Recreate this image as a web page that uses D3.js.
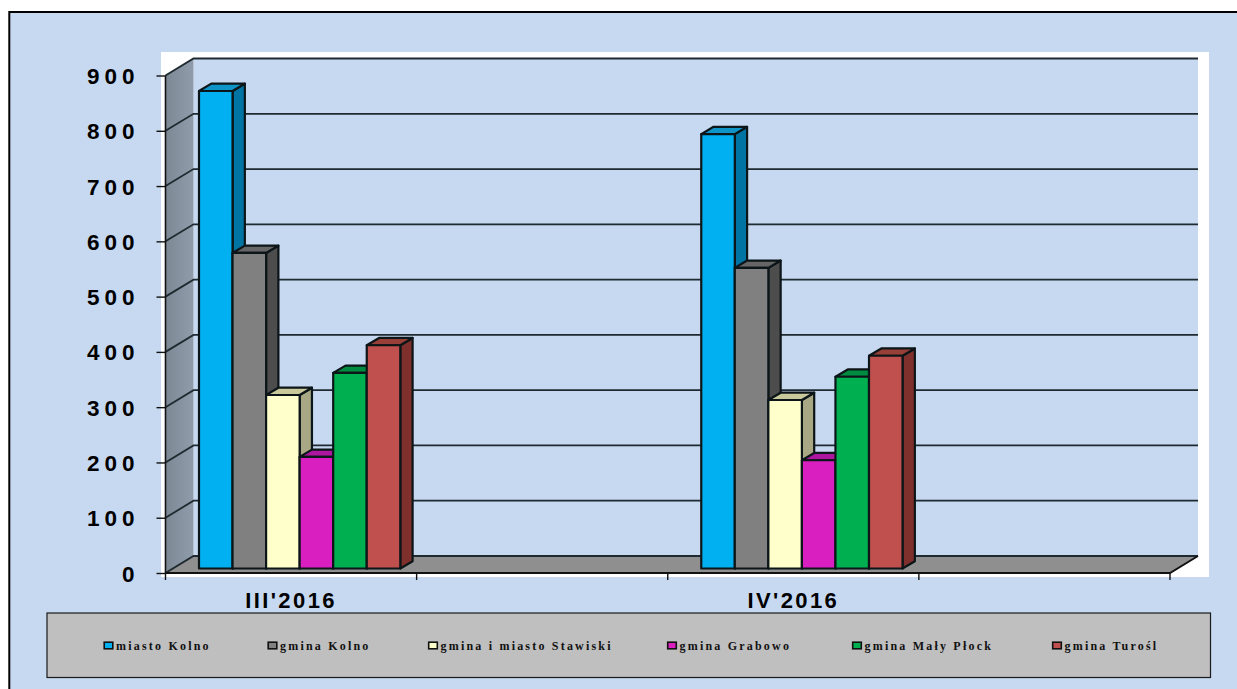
<!DOCTYPE html>
<html><head><meta charset="utf-8">
<script src="https://d3js.org/d3.v7.min.js"></script>
<style>html,body{margin:0;padding:0;background:#fff}svg{display:block}</style>
</head><body><svg id="c" width="1237" height="689"></svg>
<script>
const periods = ["III'2016", "", "IV'2016", ""];
const seriesNames = ["miasto Kolno", "gmina Kolno", "gmina i miasto Stawiski", "gmina Grabowo", "gmina Mały Płock", "gmina Turośl"];
const valuesIII = [872, 579, 322, 210, 362, 412];
const valuesIV = [794, 552, 313, 204, 355, 393];
const frontColors = ["#00b0f0", "#808080", "#ffffcc", "#d91fbf", "#00b050", "#c0504d"];
const topColors = ["#0f94c8", "#666666", "#c9c99c", "#ad17a0", "#008c40", "#984038"];
const sideColors = ["#0074a3", "#4d4d4d", "#a8a884", "#8a1080", "#006a30", "#7f302c"];
const yTicks = [0, 100, 200, 300, 400, 500, 600, 700, 800, 900];

const svg = d3.select("#c");
svg.append("rect").attr("x",9.3).attr("y",12).attr("width",1240).attr("height",690)
  .attr("fill","#c6d9f1").attr("stroke","#000").attr("stroke-width",2);
svg.append("rect").attr("x",161).attr("y",52).attr("width",1048).attr("height",525).attr("fill","#fff");

const dx = 28, dy = -17;
const y = d3.scaleLinear().domain([0,900]).range([573,75.5]);
const x = d3.scaleBand().domain(d3.range(periods.length)).range([165.5,1170]);
const defs = svg.append("defs");
const g1 = defs.append("linearGradient").attr("id","wall").attr("x1",0).attr("x2",1).attr("y1",0).attr("y2",0);
g1.append("stop").attr("offset",0).attr("stop-color","#7d8894");
g1.append("stop").attr("offset",1).attr("stop-color","#8f9cab");

const line = d3.line();
svg.append("path").attr("d",line([[x.range()[0]+dx,y(900)+dy],[x.range()[1]+dx,y(900)+dy],[x.range()[1]+dx,y(0)+dy],[x.range()[0]+dx,y(0)+dy]])+"Z").attr("fill","#c6d9f1");
svg.append("path").attr("d",line([[x.range()[0],y(900)],[x.range()[0]+dx,y(900)+dy],[x.range()[0]+dx,y(0)+dy],[x.range()[0],y(0)]])+"Z").attr("fill","url(#wall)");
svg.append("path").attr("d",line([[x.range()[0],y(0)],[x.range()[0]+dx,y(0)+dy],[x.range()[1]+dx,y(0)+dy],[x.range()[1],y(0)]])+"Z")
  .attr("fill","#8f8f8f");
yTicks.forEach(t=>{
  svg.append("path").attr("fill","none").attr("stroke","#1f2a30").attr("stroke-width",t===0?2:1.8)
    .attr("d",line([[x.range()[0],y(t)],[x.range()[0]+dx,y(t)+dy],[x.range()[1]+dx,y(t)+dy]]));
});
svg.append("path").attr("fill","none").attr("stroke","#111").attr("stroke-width",2)
  .attr("d",line([[x.range()[0],y(0)],[x.range()[1],y(0)],[x.range()[1]+dx,y(0)+dy]]));
svg.append("line").attr("x1",x.range()[0]).attr("x2",x.range()[0]).attr("y1",y(900)).attr("y2",y(0)).attr("stroke","#111").attr("stroke-width",1.6);

const yAxis = svg.append("g").attr("transform",`translate(${x.range()[0]},0)`)
  .call(d3.axisLeft(y).tickValues(yTicks).tickSize(9).tickPadding(17));
yAxis.select(".domain").remove();
yAxis.selectAll("text").attr("font-family","'Liberation Sans',Arial,sans-serif").attr("font-weight","bold").attr("font-size",22.5).attr("letter-spacing",5).attr("fill","#000").attr("dy","0.36em");
yAxis.selectAll("line").attr("stroke","#111").attr("stroke-width",1.4);

const xAxis = svg.append("g").attr("transform",`translate(0,${y(0)})`)
  .call(d3.axisBottom(x).tickValues([]).tickSize(0));
xAxis.select(".domain").remove();
d3.range(periods.length+1).forEach(i=>{
  const px = i<periods.length ? x(i) : x.range()[1];
  xAxis.append("line").attr("x1",px).attr("x2",px).attr("y1",0).attr("y2",7).attr("stroke","#111").attr("stroke-width",1.4);
});
periods.forEach((p,i)=>{
  if(!p) return;
  xAxis.append("text").attr("x",x(i)+x.bandwidth()/2).attr("y",35).attr("text-anchor","middle")
    .attr("font-family","'Liberation Sans',Arial,sans-serif").attr("font-weight","bold").attr("font-size",22).attr("letter-spacing",2.4).attr("fill","#000").text(p);
});

const barOffset = 33.5, barW = 33.55, oy = -4.5, bx = 12.3, by = -7.3;
[[0,valuesIII],[2,valuesIV]].forEach(([gi,vals])=>{
  vals.forEach((v,si)=>{
    const xl = x(gi)+barOffset+si*barW, xr = xl+barW;
    const yt = y(v), yb = y(0)+oy;
    const g = svg.append("g").attr("stroke","#0c1518").attr("stroke-width",2.2).attr("stroke-linejoin","round");
    g.append("path").attr("fill",sideColors[si]).attr("d",line([[xr,yt],[xr+bx,yt+by],[xr+bx,yb+by],[xr,yb]])+"Z");
    g.append("path").attr("fill",topColors[si]).attr("d",line([[xl,yt],[xl+bx,yt+by],[xr+bx,yt+by],[xr,yt]])+"Z");
    g.append("rect").attr("x",xl).attr("y",yt).attr("width",barW).attr("height",yb-yt).attr("fill",frontColors[si]);
  });
});

svg.append("rect").attr("x",47).attr("y",613).attr("width",1163.5).attr("height",64.5).attr("fill","#bfbfbf").attr("stroke","#1a1a1a").attr("stroke-width",1.2);
const legendX = [103.5, 267.5, 428, 667, 852, 1052];
const legG = svg.selectAll(".leg").data(seriesNames).join("g").attr("transform",(d,i)=>`translate(${legendX[i]},645.5)`);
legG.append("rect").attr("x",0.7).attr("y",-3.3).attr("width",8.6).attr("height",6.6).attr("stroke","#111").attr("stroke-width",1.6).attr("fill",(d,i)=>frontColors[i]);
legG.append("text").attr("x",12.5).attr("y",4.5).attr("font-family","'Liberation Serif','Times New Roman',serif").attr("font-weight","bold").attr("font-size",12).attr("letter-spacing",2.2).attr("fill","#111").text(d=>d);
</script></body></html>
